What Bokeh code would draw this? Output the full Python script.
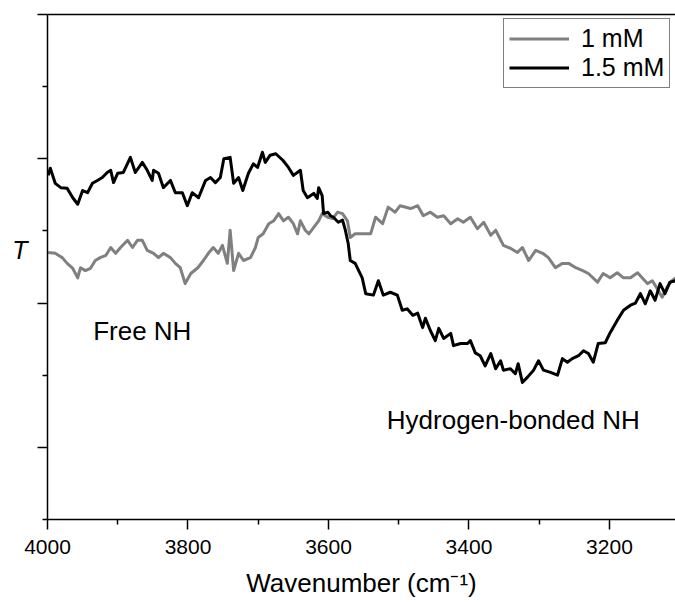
from bokeh.plotting import figure
from bokeh.models import Range1d, FixedTicker, LinearAxis, Label
from bokeh.embed import file_html
from bokeh.resources import INLINE

# ---- data ----
wn_1mM = [3999, 3989, 3979, 3972, 3964, 3957, 3953, 3946, 3939, 3932, 3925, 3917, 3910, 3903,
          3896, 3886, 3879, 3872, 3865, 3858, 3849, 3842, 3835, 3825, 3818, 3811, 3804, 3796,
          3786, 3778, 3771, 3764, 3757, 3751, 3744, 3740, 3735, 3728, 3721, 3711, 3704, 3700,
          3693, 3685, 3678, 3671, 3664, 3657, 3650, 3644, 3640, 3633, 3628, 3621, 3614, 3609,
          3601, 3594, 3587, 3580, 3573, 3569, 3562, 3550, 3540, 3533, 3523, 3515, 3505, 3498,
          3483, 3473, 3465, 3455, 3445, 3436, 3426, 3416, 3408, 3398, 3388, 3379, 3369, 3362,
          3351, 3341, 3331, 3324, 3315, 3305, 3295, 3287, 3277, 3267, 3258, 3248, 3238, 3230,
          3217, 3209, 3199, 3189, 3180, 3170, 3160, 3146, 3139, 3132, 3125, 3118, 3111, 3106]
t_1mM = [3.70, 3.69, 3.63, 3.55, 3.48, 3.35, 3.49, 3.45, 3.48, 3.59, 3.63, 3.66, 3.77, 3.69,
         3.77, 3.87, 3.77, 3.87, 3.87, 3.73, 3.69, 3.63, 3.69, 3.63, 3.55, 3.49, 3.27, 3.41,
         3.49, 3.59, 3.69, 3.77, 3.69, 3.80, 3.55, 4.01, 3.45, 3.69, 3.59, 3.63, 3.77, 3.91,
         3.96, 4.10, 4.14, 4.24, 4.14, 4.19, 4.10, 3.96, 4.14, 4.01, 3.96, 4.05, 4.14, 4.24,
         4.19, 4.17, 4.26, 4.24, 4.14, 3.91, 3.96, 3.96, 3.96, 4.19, 4.10, 4.33, 4.26, 4.35,
         4.31, 4.35, 4.21, 4.26, 4.19, 4.21, 4.10, 4.17, 4.12, 4.19, 4.03, 4.12, 3.94, 4.01,
         3.80, 3.76, 3.70, 3.77, 3.59, 3.73, 3.69, 3.63, 3.49, 3.55, 3.55, 3.49, 3.45, 3.41,
         3.29, 3.41, 3.35, 3.42, 3.35, 3.35, 3.42, 3.27, 3.31, 3.20, 3.08, 3.22, 3.31, 3.35]

wn_15mM = [3999, 3996, 3989, 3981, 3972, 3964, 3957, 3950, 3943, 3936, 3929, 3922, 3915, 3910,
           3906, 3900, 3892, 3882, 3875, 3865, 3858, 3851, 3849, 3842, 3835, 3825, 3818, 3808,
           3801, 3794, 3785, 3775, 3768, 3761, 3754, 3749, 3740, 3735, 3728, 3722, 3714, 3707,
           3701, 3694, 3690, 3683, 3675, 3665, 3657, 3650, 3640, 3636, 3630, 3621, 3616, 3614,
           3609, 3607, 3601, 3597, 3593, 3586, 3580, 3576, 3572, 3569, 3562, 3552, 3547, 3536,
           3529, 3522, 3512, 3502, 3495, 3488, 3480, 3473, 3466, 3462, 3455, 3448, 3443, 3436,
           3426, 3422, 3412, 3402, 3398, 3391, 3384, 3377, 3369, 3362, 3355, 3351, 3341, 3334,
           3330, 3324, 3317, 3308, 3301, 3294, 3284, 3274, 3267, 3260, 3253, 3244, 3237, 3230,
           3223, 3216, 3206, 3199, 3189, 3180, 3170, 3163, 3156, 3149, 3142, 3135, 3128, 3121,
           3114, 3106]
t_15mM = [4.77, 4.87, 4.66, 4.60, 4.59, 4.46, 4.37, 4.56, 4.53, 4.66, 4.70, 4.74, 4.81, 4.84,
          4.67, 4.80, 4.81, 5.02, 4.81, 4.95, 4.84, 4.70, 4.84, 4.80, 4.60, 4.70, 4.53, 4.53,
          4.35, 4.53, 4.46, 4.70, 4.74, 4.67, 4.74, 5.00, 5.02, 4.66, 4.74, 4.56, 4.80, 4.93,
          4.88, 5.09, 4.95, 5.05, 5.07, 4.98, 4.88, 4.77, 4.84, 4.56, 4.46, 4.52, 4.45, 4.60,
          4.49, 4.24, 4.26, 4.21, 4.19, 4.12, 4.15, 4.01, 3.83, 3.59, 3.55, 3.35, 3.13, 3.11,
          3.31, 3.11, 3.15, 3.11, 2.90, 2.92, 2.83, 2.86, 2.66, 2.79, 2.62, 2.48, 2.65, 2.51,
          2.58, 2.41, 2.44, 2.44, 2.48, 2.31, 2.27, 2.13, 2.30, 2.09, 2.20, 2.07, 2.09, 2.02,
          2.16, 1.90, 1.97, 2.07, 2.20, 2.07, 2.04, 2.00, 2.23, 2.18, 2.23, 2.27, 2.34, 2.30,
          2.18, 2.44, 2.45, 2.59, 2.76, 2.90, 2.97, 3.00, 3.13, 2.99, 3.17, 3.04, 3.27, 3.13,
          3.29, 3.31]

series_labels = ["1 mM", "1.5 mM"]
x_major_ticks = [4000, 3800, 3600, 3400, 3200]
x_minor_ticks = [3900, 3700, 3500, 3300, 3100]
y_major_ticks = [1, 3, 5, 7]
y_minor_ticks = [0, 2, 4, 6]
x_title = "Wavenumber (cm\u207b\u00b9)"
y_title = "T"

FONT = "Liberation Sans"
W, H = 675, 603

p = figure(width=W, height=H, output_backend="svg", toolbar_location=None,
           x_range=Range1d(4000, 3106), y_range=Range1d(0, 7),
           min_border_left=47, min_border_right=0, min_border_top=14, min_border_bottom=84)
p.outline_line_color = None
p.xgrid.visible = False
p.ygrid.visible = False
p.background_fill_color = "white"
p.border_fill_color = "white"

p.line(wn_1mM, t_1mM, line_color="#808080", line_width=3, line_join="round",
       legend_label=series_labels[0])
p.line(wn_15mM, t_15mM, line_color="black", line_width=3, line_join="round",
       legend_label=series_labels[1])

# x axis
xa = p.xaxis[0]
xa.ticker = FixedTicker(ticks=x_major_ticks, minor_ticks=x_minor_ticks)
xa.axis_line_width = 1.5
xa.major_tick_line_width = 1.5
xa.minor_tick_line_width = 1.5
xa.major_tick_in = 0
xa.major_tick_out = 10
xa.minor_tick_in = 0
xa.minor_tick_out = 5
xa.major_label_text_font = FONT
xa.major_label_text_font_size = "21px"
xa.major_label_text_color = "black"
xa.major_label_standoff = 10
xa.axis_label = x_title
xa.axis_label_text_font = FONT
xa.axis_label_text_font_size = "26px"
xa.axis_label_text_font_style = "normal"
xa.axis_label_text_color = "black"
xa.axis_label_standoff = 11

# y axis (no tick labels)
ya = p.yaxis[0]
ya.ticker = FixedTicker(ticks=y_major_ticks, minor_ticks=y_minor_ticks)
ya.axis_line_width = 1.5
ya.major_tick_line_width = 1.5
ya.minor_tick_line_width = 1.5
ya.major_tick_in = 0
ya.major_tick_out = 10
ya.minor_tick_in = 0
ya.minor_tick_out = 5
ya.major_label_overrides = {t: "" for t in y_major_ticks}
ya.major_label_standoff = 0
ya.axis_label = y_title + "\n"
ya.axis_label_orientation = "horizontal"
ya.axis_label_text_font = FONT
ya.axis_label_text_font_size = "25px"
ya.axis_label_text_font_style = "italic"
ya.axis_label_text_color = "black"
ya.axis_label_standoff = 10

# top frame line
top = LinearAxis(ticker=FixedTicker(ticks=[]),
                 major_tick_out=0, major_tick_in=0, minor_tick_out=0, minor_tick_in=0,
                 major_label_standoff=0, axis_line_width=1.5)
p.add_layout(top, "above")

# legend
lg = p.legend[0]
lg.location = (456, 431)
lg.border_line_color = "black"
lg.border_line_width = 1
lg.background_fill_color = "white"
lg.background_fill_alpha = 1
lg.label_text_font = FONT
lg.label_text_font_size = "25px"
lg.label_text_color = "black"
lg.glyph_width = 60
lg.glyph_height = 29
lg.label_height = 29
lg.label_standoff = 12
lg.padding = 5
lg.spacing = 0
lg.margin = 0

# annotations
p.add_layout(Label(x=3935, y=2.606, text="Free NH", text_font=FONT, text_font_size="26px",
                   text_align="left", text_baseline="alphabetic", text_color="black"))
p.add_layout(Label(x=3517, y=1.386, text="Hydrogen-bonded NH", text_font=FONT,
                   text_font_size="26px", text_align="left", text_baseline="alphabetic",
                   text_color="black"))

open("out.html", "w").write(file_html(p, INLINE))
